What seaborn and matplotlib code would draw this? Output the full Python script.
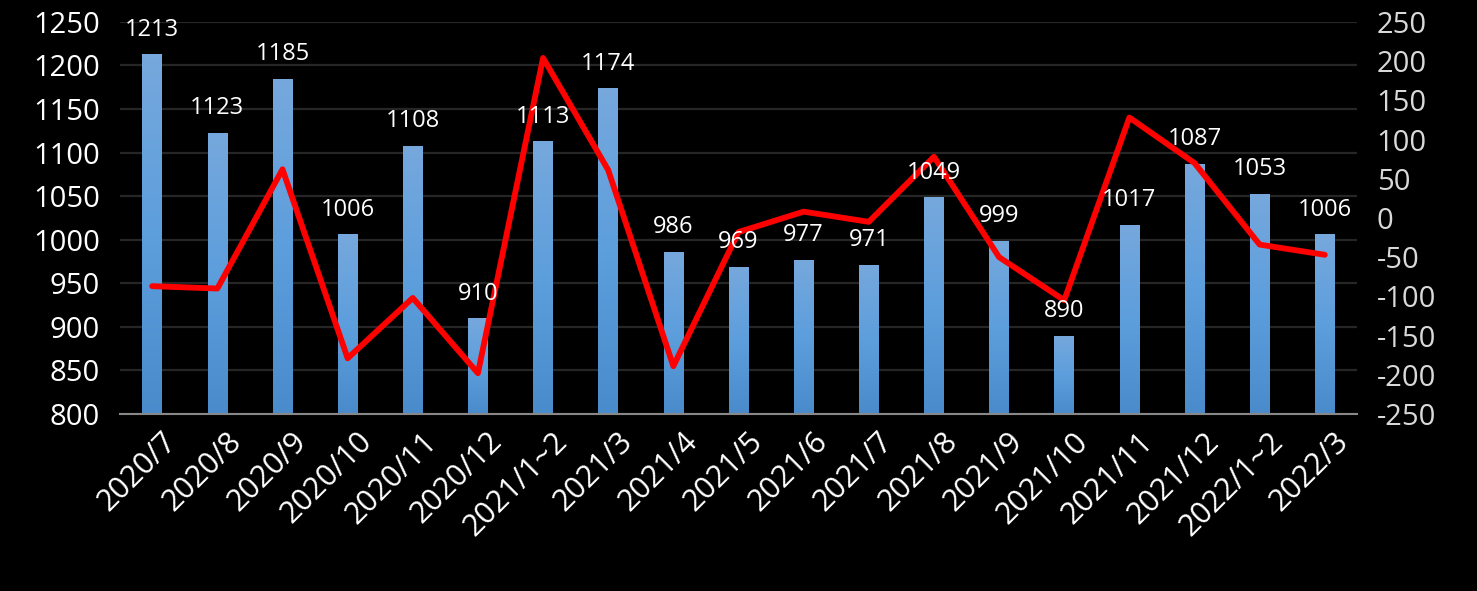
import numpy as np
import pandas as pd
import seaborn as sns
import matplotlib.pyplot as plt
import matplotlib.transforms as mtransforms
from matplotlib.colors import LinearSegmentedColormap

months = ["2020/7", "2020/8", "2020/9", "2020/10", "2020/11", "2020/12",
          "2021/1~2", "2021/3", "2021/4", "2021/5", "2021/6", "2021/7",
          "2021/8", "2021/9", "2021/10", "2021/11", "2021/12", "2022/1~2", "2022/3"]
volume = [1213, 1123, 1185, 1006, 1108, 910, 1113, 1174, 986, 969, 977, 971,
          1049, 999, 890, 1017, 1087, 1053, 1006]
change = [-87, -90, 62, -179, -102, -198, 204, 61, -189, -18, 8, -5,
          78, -50, -105, 128, 70, -34, -47]

df = pd.DataFrame({"month": months, "volume": volume, "change": change})

sns.set_style("dark")
plt.rcParams['font.family'] = ['Open Sans', 'DejaVu Sans']
plt.rcParams['axes.unicode_minus'] = False

fig = plt.figure(figsize=(14.77, 5.91), dpi=100, facecolor="black")
ax = fig.add_axes([0.081, 0.2995, 0.838, 0.6635])
ax.set_facecolor("black")

sns.barplot(data=df, x="month", y="volume", color="#5b9bd5", width=0.3,
            ax=ax, zorder=2)

# gradient fill on bars: lighter at top, deeper at the bottom
grad = LinearSegmentedColormap.from_list("bar", ["#4a8bcb", "#5d9edd", "#76a8dc"])
for p in ax.patches:
    x0, y0 = p.get_x(), p.get_y()
    w, h = p.get_width(), p.get_height()
    img = ax.imshow(np.linspace(0, 1, 100).reshape(-1, 1), cmap=grad, origin="lower",
                    extent=[x0, x0 + w, 800, y0 + h], aspect="auto", zorder=2)
    img.set_clip_path(p)
    p.set_facecolor("none")
    p.set_edgecolor("none")
ax.set_aspect("auto")
ax.set_xlim(-0.5, len(months) - 0.5)
ax.set_ylim(800, 1250)
ax.set_yticks(range(800, 1251, 50))

ax.grid(axis="y", color="#262626", linewidth=1.6, zorder=0)
ax.grid(axis="x", visible=False)
for s in ["top", "left", "right"]:
    ax.spines[s].set_visible(False)
ax.spines["bottom"].set_color("#888888")
ax.spines["bottom"].set_linewidth(1.5)
ax.set_xlabel("")
ax.set_ylabel("")
ax.tick_params(axis="y", colors="white", labelsize=21, length=0, pad=14)
ax.tick_params(axis="x", colors="white", labelsize=22, length=0, pad=9)
shift = mtransforms.ScaledTranslation(0.09, 0, fig.dpi_scale_trans)
for lab in ax.get_xticklabels():
    lab.set_rotation(45)
    lab.set_ha("right")
    lab.set_rotation_mode("anchor")
    lab.set_transform(lab.get_transform() + shift)

ax2 = ax.twinx()
ax2.patch.set_visible(False)
sns.lineplot(x=np.arange(len(months)), y=change, color="#ff0000", linewidth=4.2,
             sort=False, ax=ax2, zorder=3)
ax2.set_ylim(-250, 250)
ax2.set_yticks(range(-250, 251, 50))
ax2.grid(False)
for s in ax2.spines.values():
    s.set_visible(False)
ax2.tick_params(axis="y", colors="#d9d9d9", labelsize=21, length=0, pad=14)
ax2.set_ylabel("")

for i, v in enumerate(volume):
    ax2.annotate(str(v), xy=(i, v), xycoords=ax.transData, xytext=(0, 9),
                 textcoords="offset points", ha="center", va="bottom",
                 color="white", fontsize=17, zorder=5)

fig.savefig("out.png", dpi=100, facecolor="black")
